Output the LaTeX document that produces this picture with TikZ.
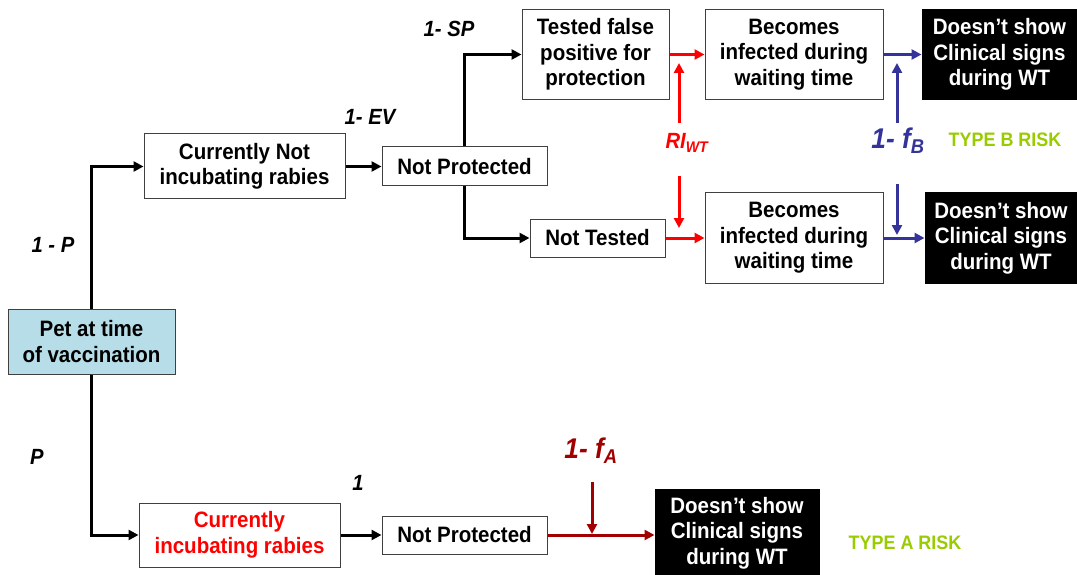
\documentclass[tikz,border=0pt]{standalone}
\usepackage{fontspec}
\setmainfont{Liberation Sans}[FakeStretch=0.92]
\usetikzlibrary{arrows.meta}
\definecolor{petfill}{HTML}{B7DEE8}
\definecolor{boxline}{HTML}{404040}
\definecolor{myred}{HTML}{FF0000}
\definecolor{myblue}{HTML}{333399}
\definecolor{mydarkred}{HTML}{A00000}
\definecolor{mygreen}{HTML}{99CC00}
\tikzset{
  box/.style={draw=boxline, line width=1pt, fill=white, align=center, inner sep=0pt,
    font=\fontsize{22.3}{25.5}\selectfont\bfseries},
  darkbox/.style={box, fill=black, draw=black, text=white},
  conn/.style={line width=3pt, -{Triangle[length=10pt,width=10pt]}},
  lab/.style={inner sep=0pt, font=\fontsize{22}{26}\selectfont\bfseries\itshape},
  biglab/.style={inner sep=0pt, font=\fontsize{28.5}{32}\selectfont\bfseries\itshape},
  risk/.style={inner sep=0pt, text=mygreen, font=\fontsize{19.5}{23}\selectfont\bfseries}
}
\begin{document}
\begin{tikzpicture}[x=1pt,y=-1pt]
\useasboundingbox (0,0) rectangle (1077,575);
% boxes
\node[box, fill=petfill, minimum width=167pt, minimum height=65pt] (pet) at (91.5,341.5) {Pet at time\\of vaccination};
\node[box, minimum width=201pt, minimum height=65pt] (cni) at (244.5,166.5) {Currently Not\\incubating rabies};
\node[box, minimum width=165pt, minimum height=39pt] (np1) at (464.5,166.5) {Not Protected};
\node[box, minimum width=147pt, minimum height=90pt] (tfp) at (595.5,54.5) {Tested false\\positive for\\protection};
\node[box, minimum width=135pt, minimum height=38pt] (nt) at (597.5,238) {Not Tested};
\node[box, minimum width=178pt, minimum height=90pt] (bi1) at (794,54.5) {Becomes\\infected during\\waiting time};
\node[box, minimum width=178pt, minimum height=90pt] (bi2) at (794,238) {Becomes\\infected during\\waiting time};
\node[darkbox, minimum width=155pt, minimum height=90pt] (ds1) at (999.5,54.5) {Doesn’t show\\Clinical signs\\during WT};
\node[darkbox, minimum width=152pt, minimum height=90pt] (ds2) at (1001,238) {Doesn’t show\\Clinical signs\\during WT};
\node[box, text=myred, minimum width=201pt, minimum height=64pt] (cir) at (239.5,535) {Currently\\incubating rabies};
\node[box, minimum width=165pt, minimum height=38pt] (np2) at (464.5,535) {Not Protected};
\node[darkbox, minimum width=164pt, minimum height=88pt] (dsa) at (737,533) {Doesn’t show\\Clinical signs\\during WT};
% labels
\node[lab] (lsp) at (449,29) {1- SP};
\node[lab] (lev) at (370,117) {1- EV};
\node[lab] (lp) at (53,245) {1 - P};
\node[lab] (lpp) at (37,457) {P};
\node[lab] (lone) at (358,483) {1};
\node[lab, text=myred] (ri) at (687,143) {RI\textsubscript{WT}};
\node[biglab, text=myblue] (fb) at (898,141) {1- f\textsubscript{B}};
\node[biglab, text=mydarkred] (fa) at (591,451) {1- f\textsubscript{A}};
\node[risk] (rb) at (1005,140) {TYPE B RISK};
\node[risk] (ra) at (905,543) {TYPE A RISK};
% black connectors
\draw[conn] (pet.north) |- (cni.west);
\draw[conn] (pet.south) |- (cir.west);
\draw[conn] (cni.east) -- (np1.west);
\draw[conn] (np1.north) |- (tfp.west);
\draw[conn] (np1.south) |- (nt.west);
\draw[conn] (cir.east) -- (np2.west);
% red
\draw[conn, myred] (tfp.east) -- (bi1.west);
\draw[conn, myred] (nt.east) -- (nt.east -| bi2.west);
\coordinate (riA1) at (679,123);
\coordinate (riA2) at (679,63);
\coordinate (riB1) at (679,176);
\coordinate (riB2) at (679,228);
\draw[conn, myred] (riA1) -- (riA2);
\draw[conn, myred] (riB1) -- (riB2);
% blue
\draw[conn, myblue] (bi1.east) -- (ds1.west);
\draw[conn, myblue] (bi2.east) -- (ds2.west);
\coordinate (fbA1) at (897,123);
\coordinate (fbA2) at (897,63);
\coordinate (fbB1) at (897,184);
\coordinate (fbB2) at (897,235);
\draw[conn, myblue] (fbA1) -- (fbA2);
\draw[conn, myblue] (fbB1) -- (fbB2);
% dark red
\draw[conn, mydarkred] (np2.east) -- (np2.east -| dsa.west);
\coordinate (faA1) at (592,482);
\coordinate (faA2) at (592,534);
\draw[conn, mydarkred] (faA1) -- (faA2);
\end{tikzpicture}
\end{document}
